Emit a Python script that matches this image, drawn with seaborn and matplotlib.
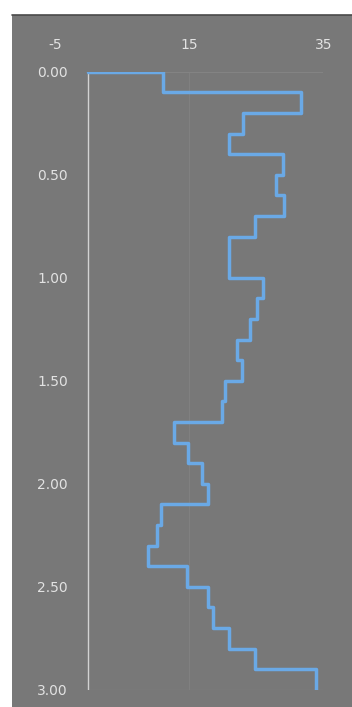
import numpy as np
import pandas as pd
import matplotlib
matplotlib.use("Agg")
import matplotlib.pyplot as plt
from matplotlib.patches import Rectangle
from matplotlib.lines import Line2D
import seaborn as sns

# Layer values (one per 0.1 depth interval, 0.0 -> 3.0)
layer_tops = [round(0.1 * i, 1) for i in range(30)]
layer_values = [11.1, 31.7, 23.0, 21.0, 29.0, 28.0, 29.1, 24.8, 21.0, 21.0,
                26.0, 25.1, 24.1, 22.1, 22.9, 20.4, 19.9, 12.7, 14.8, 17.0,
                17.8, 10.9, 10.2, 8.9, 14.7, 17.9, 18.6, 20.9, 24.8, 34.0]
x_ticks = [-5, 15, 35]
y_ticks = [0.0, 0.5, 1.0, 1.5, 2.0, 2.5, 3.0]
y_ticklabels = ["0.00", "0.50", "1.00", "1.50", "2.00", "2.50", "3.00"]

# Step profile: start at zero on the surface, then each value held over its layer
bottoms = [round(t + 0.1, 1) for t in layer_tops]
profile = pd.DataFrame({
    "value": [0.0] + layer_values,
    "depth": [0.0] + bottoms,
})

W, H, DPI = 352, 707, 100
bg = "#787878"
txt = "#e2e2e2"

sns.set_style("dark")
fig = plt.figure(figsize=(W / DPI, H / DPI), dpi=DPI, facecolor="white")

# chart area panel, kept behind the axes
fig.patches.append(Rectangle((12 / W, 0), 1 - 12 / W, (H - 15) / H,
                             transform=fig.transFigure, facecolor=bg,
                             edgecolor="none", zorder=-10))
fig.lines.append(Line2D([12 / W, 1], [(H - 15) / H] * 2, transform=fig.transFigure,
                        color="#4a4a4a", lw=1.2, zorder=-9))

ax = fig.add_axes([54.8 / W, 17.3 / H, 268.4 / W, 618 / H])
ax.set_facecolor("none")
ax.set_zorder(5)

sns.lineplot(data=profile, x="value", y="depth", sort=False, estimator=None,
             color="#6aa9e6", linewidth=2.5, drawstyle="steps-post",
             ax=ax, zorder=3)

ax.set_xlim(-5, 35)
ax.set_ylim(3.0, 0.0)

# faint vertical guides and the zero axis
for xv in x_ticks[1:]:
    ax.axvline(xv, color="#808080", lw=0.8, zorder=1)
ax.axvline(0, color="#d2d2d2", lw=1.0, zorder=2)
ax.plot([0, 35], [0, 0], color="#838383", lw=0.8, zorder=1)
ax.plot([0, 35], [3, 3], color="#868686", lw=0.9, zorder=1)

ax.grid(False)
for s in ax.spines.values():
    s.set_visible(False)

ax.xaxis.tick_top()
ax.set_xticks(x_ticks)
ax.set_xticklabels([str(v) for v in x_ticks])
ax.set_yticks(y_ticks)
ax.set_yticklabels(y_ticklabels)
ax.tick_params(axis="x", length=0, pad=14.5, labelsize=10, labelcolor=txt)
ax.tick_params(axis="y", length=0, pad=-9.5, labelsize=10, labelcolor=txt)
ax.set_xlabel("")
ax.set_ylabel("")

fig.savefig("out.png", dpi=DPI, facecolor="white")
